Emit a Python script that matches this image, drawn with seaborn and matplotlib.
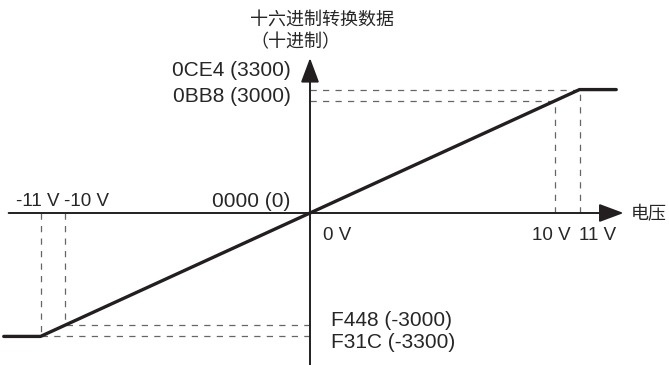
import matplotlib
matplotlib.use("Agg")
import matplotlib.pyplot as plt
import seaborn as sns
import pandas as pd

# conversion curve: voltage -> hex data (decimal)
volts = [-12.5, -11, 11, 12.5]
counts = [-3300, -3300, 3300, 3300]

# reference levels
v_marks = [-11, -10, 10, 11]
c_marks = [-3300, -3000, 3000, 3300]
c_labels = ["F31C (-3300)", "F448 (-3000)", "0BB8 (3000)", "0CE4 (3300)"]
v_labels = ["-11 V", "-10 V", "10 V", "11 V"]

df = pd.DataFrame({"volt": volts, "count": counts})

sns.set_theme(style="white")
plt.rcParams['font.family'] = ['Liberation Sans', 'Noto Sans CJK SC']

W, H = 669, 365
fig = plt.figure(figsize=(W / 100, H / 100), dpi=100)
ax = fig.add_axes([0, 0, 1, 1])
ax.axis('off')

# pixel mapping of the drawing
x0, y0 = 310, 213          # origin in pixels
sx, sy = 24.5, 0.0374      # px per volt, px per count
ax.set_xlim(-x0 / sx, (W - x0) / sx)
ax.set_ylim(-(H - y0) / sy, y0 / sy)

grey = '#666666'
dash = dict(color=grey, lw=0.9, ls=(0, (5, 5)))
for v, c in zip(v_marks, c_marks):
    ax.plot([v, v], [0, c], **dash)
    ax.plot([0, v], [c, c], **dash)

# axes with arrows
arrow = dict(arrowstyle='-|>,head_length=0.75,head_width=0.28', color='#231f20',
             lw=1.4, mutation_scale=20, shrinkA=0, shrinkB=0)
ax.annotate("", xy=(12.8, 0), xytext=(-12.3, 0), arrowprops=arrow)
ax.annotate("", xy=(0, (y0 - 58) / sy), xytext=(0, -(H - y0) / sy), arrowprops=arrow)

sns.lineplot(data=df, x="volt", y="count", sort=False, estimator=None,
             color='#231f20', lw=2.4, legend=False, ax=ax)


def px(x, y):
    return x / W, 1 - y / H


fs = 15
fv = 13.5   # volt labels are set tighter in the original
t = ax.transAxes
ax.text(*px(250, 20), "十六进制转换数据", transform=t, fontsize=13, ha='left', va='center')
ax.text(*px(250, 43), "（十进制）", transform=t, fontsize=13, ha='left', va='center')
ax.text(*px(291, 70), c_labels[3], transform=t, fontsize=fs, ha='right', va='center')
ax.text(*px(291, 96), c_labels[2], transform=t, fontsize=fs, ha='right', va='center')
ax.text(*px(290, 202), "0000 (0)", transform=t, fontsize=fs, ha='right', va='center')
ax.text(*px(331, 320), c_labels[1], transform=t, fontsize=fs, ha='left', va='center')
ax.text(*px(331, 343), c_labels[0], transform=t, fontsize=fs, ha='left', va='center')
ax.text(*px(16, 202), v_labels[0], transform=t, fontsize=fv, ha='left', va='center')
ax.text(*px(64, 202), v_labels[1], transform=t, fontsize=fv, ha='left', va='center')
ax.text(*px(323, 236), "0 V", transform=t, fontsize=fv, ha='left', va='center')
ax.text(*px(532, 236), v_labels[2], transform=t, fontsize=fv, ha='left', va='center')
ax.text(*px(579, 236), v_labels[3], transform=t, fontsize=fv, ha='left', va='center')
ax.text(*px(631, 215), "电压", transform=t, fontsize=13, ha='left', va='center')

fig.savefig("out.png", dpi=100, facecolor='white')
